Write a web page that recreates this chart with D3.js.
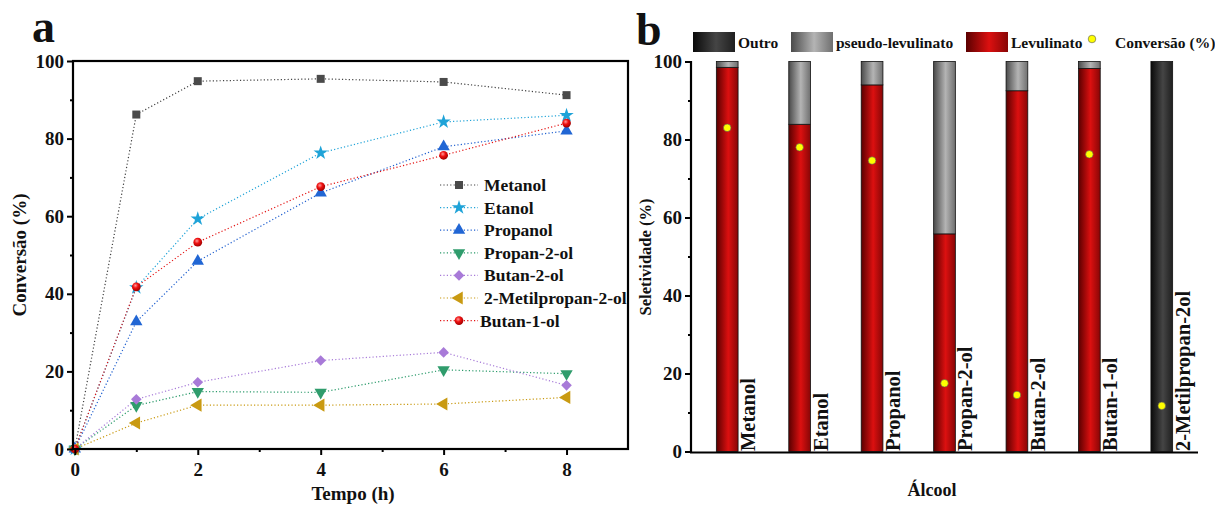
<!DOCTYPE html>
<html>
<head>
<meta charset="utf-8">
<script src="https://cdn.jsdelivr.net/npm/d3@7"></script>
<style>
  body { margin: 0; background: #fff; }
  text { font-family: "Liberation Serif", "Times New Roman", serif; font-weight: bold; fill: #111; }
</style>
</head>
<body>
<div id="chart"></div>
<script>
// ---- panel a data (Conversão vs Tempo)
const tempo = [0, 1, 2, 4, 6, 8];
const metanol = [0, 86.2, 94.8, 95.4, 94.6, 91.2];
const etanol = [0, 41.6, 59.3, 76.3, 84.3, 86.0];
const propanol = [0, 32.8, 48.4, 66.0, 77.9, 82.0];
const propan2ol = [0, 11.2, 14.8, 14.6, 20.4, 19.4];
const butan2ol = [0, 12.8, 17.2, 22.8, 24.9, 16.4];
const metilpropan2ol = [0, 6.7, 11.3, 11.3, 11.6, 13.3];
const butan1ol = [0, 41.8, 53.3, 67.6, 75.7, 84.0];
const xTicksA = [0, 2, 4, 6, 8];
const yTicks = [0, 20, 40, 60, 80, 100];

// ---- panel b data (Seletividade por álcool)
const alcoois = ['Metanol', 'Etanol', 'Propanol', 'Propan-2-ol', 'Butan-2-ol', 'Butan-1-ol', '2-Metilpropan-2ol'];
const levulinato = [98.5, 83.9, 94.0, 55.8, 92.5, 98.2, 0];
const pseudoLevulinato = [1.5, 16.1, 6.0, 44.2, 7.5, 1.8, 0];
const outro = [0, 0, 0, 0, 0, 0, 100];
const conversao = [83.0, 78.0, 74.6, 17.5, 14.5, 76.2, 11.7];

const W = 1215, H = 505;
const svg = d3.select('#chart').append('svg')
  .attr('width', W).attr('height', H);
svg.append('rect').attr('width', W).attr('height', H).attr('fill', '#fff');

const defs = svg.append('defs');

function barGradient(id, dark, bright) {
  const g = defs.append('linearGradient').attr('id', id)
    .attr('x1', '0%').attr('x2', '100%').attr('y1', '0%').attr('y2', '0%');
  g.append('stop').attr('offset', '0%').attr('stop-color', dark);
  g.append('stop').attr('offset', '55%').attr('stop-color', bright);
  g.append('stop').attr('offset', '100%').attr('stop-color', d3.interpolateRgb(dark, bright)(0.35));
}
barGradient('gOutro', '#0a0a0a', '#454545');
barGradient('gPseudo', '#4a4a4a', '#b4b4b4');
barGradient('gLevul', '#5a0000', '#dc1010');

const ball = defs.append('radialGradient').attr('id', 'gBall')
  .attr('cx', '40%').attr('cy', '35%').attr('r', '65%');
ball.append('stop').attr('offset', '0%').attr('stop-color', '#ff9a9a');
ball.append('stop').attr('offset', '45%').attr('stop-color', '#f01010');
ball.append('stop').attr('offset', '100%').attr('stop-color', '#a00000');

// ================= panel a =================
const xA = d3.scaleLinear().domain([-0.03, 9]).range([73, 628]);
const yA = d3.scaleLinear().domain([0, 100]).range([449, 61]);

const gA = svg.append('g');

const series = [
  { name: 'Metanol', values: metanol, color: '#424242', fill: '#4a4a4a', sym: d3.symbolSquare, size: 64, rot: 0 },
  { name: 'Etanol', values: etanol, color: '#1fa3d8', fill: '#1fa3d8', sym: d3.symbolStar, size: 64, rot: 0 },
  { name: 'Propanol', values: propanol, color: '#1f5fcf', fill: '#2166d4', sym: d3.symbolTriangle, size: 66, rot: 0 },
  { name: 'Propan-2-ol', values: propan2ol, color: '#2a9a6a', fill: '#2f9c6c', sym: d3.symbolTriangle, size: 66, rot: 180 },
  { name: 'Butan-2-ol', values: butan2ol, color: '#a77ad8', fill: '#a87ad8', sym: d3.symbolSquare, size: 56, rot: 45 },
  { name: '2-Metilpropan-2-ol', values: metilpropan2ol, color: '#c99a12', fill: '#c99a12', sym: d3.symbolTriangle, size: 74, rot: -90 },
  { name: 'Butan-1-ol', values: butan1ol, color: '#e41414', fill: 'url(#gBall)', sym: d3.symbolCircle, size: 60, rot: 0 }
];

const line = d3.line().x((d, i) => xA(tempo[i])).y(d => yA(d));

series.forEach(s => {
  gA.append('path')
    .attr('d', line(s.values))
    .attr('fill', 'none')
    .attr('stroke', s.color)
    .attr('stroke-width', 1.2)
    .attr('stroke-dasharray', '1.2,2.2');
});

function drawMarker(g, s, x, y) {
  g.append('path')
    .attr('d', d3.symbol().type(s.sym).size(s.size)())
    .attr('transform', `translate(${x},${y}) rotate(${s.rot})`)
    .attr('fill', s.fill);
}

series.forEach(s => {
  s.values.forEach((v, i) => drawMarker(gA, s, xA(tempo[i]), yA(v)));
});

// frame + axes
gA.append('rect')
  .attr('x', 73).attr('y', 61).attr('width', 628 - 73).attr('height', 449 - 61)
  .attr('fill', 'none').attr('stroke', '#000').attr('stroke-width', 2.2);

const axA_x = gA.append('g').attr('transform', 'translate(0,449)')
  .call(d3.axisBottom(xA).tickValues(xTicksA).tickSize(6).tickFormat(d3.format('d')));
gA.append('g').attr('transform', 'translate(0,449)')
  .call(d3.axisBottom(xA).tickValues([1, 3, 5, 7]).tickSize(3).tickFormat(''));
const axA_y = gA.append('g').attr('transform', 'translate(73,0)')
  .call(d3.axisLeft(yA).tickValues(yTicks).tickSize(6));
gA.append('g').attr('transform', 'translate(73,0)')
  .call(d3.axisLeft(yA).tickValues([10, 30, 50, 70, 90]).tickSize(3).tickFormat(''));

gA.selectAll('.domain').remove();
gA.selectAll('.tick line').attr('stroke', '#000').attr('stroke-width', 2);
axA_x.selectAll('.tick text').attr('font-size', 19).attr('dy', '0.95em').attr('y', 9);
axA_y.selectAll('.tick text').attr('font-size', 19).attr('x', -9);

gA.append('text').attr('x', 353).attr('y', 500).attr('text-anchor', 'middle')
  .attr('font-size', 19).text('Tempo (h)');
gA.append('text').attr('transform', 'translate(26,255) rotate(-90)').attr('text-anchor', 'middle')
  .attr('font-size', 19).text('Conversão (%)');
gA.append('text').attr('x', 32).attr('y', 42).attr('font-size', 46).text('a');

// legend a
const legA = gA.append('g');
series.forEach((s, i) => {
  const y = 185 + i * 22.6;
  legA.append('line').attr('x1', 440).attr('x2', 478).attr('y1', y).attr('y2', y)
    .attr('stroke', s.color).attr('stroke-width', 1.2).attr('stroke-dasharray', '1.2,2.2');
  drawMarker(legA, s, 459, y);
  legA.append('text').attr('x', s.name === 'Butan-1-ol' ? 480 : 484).attr('y', y + 6)
    .attr('font-size', 17.5).text(s.name);
});

// ================= panel b =================
const xB = d3.scaleBand().domain(alcoois).range([691, 1198]).paddingInner(0.7).paddingOuter(0.35);
const yB = d3.scaleLinear().domain([0, 100]).range([451.5, 61.5]);

const gB = svg.append('g');

const table = alcoois.map((a, i) => ({ alcool: a, levulinato: levulinato[i], pseudo: pseudoLevulinato[i], outro: outro[i] }));
const stack = d3.stack().keys(['levulinato', 'pseudo', 'outro'])(table);
const fills = { levulinato: 'url(#gLevul)', pseudo: 'url(#gPseudo)', outro: 'url(#gOutro)' };

stack.forEach(layer => {
  gB.append('g').selectAll('rect')
    .data(layer.filter(d => d[1] - d[0] > 0))
    .join('rect')
    .attr('x', d => xB(d.data.alcool))
    .attr('width', xB.bandwidth())
    .attr('y', d => yB(d[1]))
    .attr('height', d => yB(d[0]) - yB(d[1]))
    .attr('fill', fills[layer.key])
    .attr('stroke', '#111')
    .attr('stroke-width', 0.8);
});

// conversion dots
gB.selectAll('circle.conv')
  .data(alcoois)
  .join('circle')
  .attr('class', 'conv')
  .attr('cx', d => xB(d) + xB.bandwidth() / 2)
  .attr('cy', (d, i) => yB(conversao[i]))
  .attr('r', 3.8)
  .attr('fill', '#ffff00')
  .attr('stroke', '#555')
  .attr('stroke-width', 0.6);

// rotated category labels
gB.selectAll('text.cat')
  .data(alcoois)
  .join('text')
  .attr('class', 'cat')
  .attr('transform', d => `translate(${xB(d) + xB.bandwidth() + 17},451) rotate(-90)`)
  .attr('font-size', 20.5)
  .text(d => d);

// axes
const axB_y = gB.append('g').attr('transform', 'translate(691,0)')
  .call(d3.axisLeft(yB).tickValues(yTicks).tickSize(6));
gB.append('g').attr('transform', 'translate(691,0)')
  .call(d3.axisLeft(yB).tickValues([10, 30, 50, 70, 90]).tickSize(3).tickFormat(''));
gB.selectAll('.domain').remove();
gB.selectAll('.tick line').attr('stroke', '#000').attr('stroke-width', 2);
axB_y.selectAll('.tick text').attr('font-size', 19).attr('x', -9);

gB.append('line').attr('x1', 691).attr('x2', 691).attr('y1', 61).attr('y2', 452.5)
  .attr('stroke', '#000').attr('stroke-width', 2.2);
gB.append('line').attr('x1', 690).attr('x2', 1198).attr('y1', 452.5).attr('y2', 452.5)
  .attr('stroke', '#000').attr('stroke-width', 2.2);

gB.append('text').attr('x', 932).attr('y', 496).attr('text-anchor', 'middle')
  .attr('font-size', 18).text('Álcool');
gB.append('text').attr('transform', 'translate(651,257) rotate(-90)').attr('text-anchor', 'middle')
  .attr('font-size', 16.5).text('Seletividade (%)');
gB.append('text').attr('x', 636).attr('y', 45).attr('font-size', 46).text('b');

// legend b
const legB = [
  { label: 'Outro', fill: 'url(#gOutro)', x: 693, tx: 738 },
  { label: 'pseudo-levulinato', fill: 'url(#gPseudo)', x: 791, tx: 836 },
  { label: 'Levulinato', fill: 'url(#gLevul)', x: 966, tx: 1011 }
];
legB.forEach(l => {
  gB.append('rect').attr('x', l.x).attr('y', 32).attr('width', 42).attr('height', 20)
    .attr('fill', l.fill);
  gB.append('text').attr('x', l.tx).attr('y', 48).attr('font-size', 15.5).text(l.label);
});
gB.append('circle').attr('cx', 1092).attr('cy', 39).attr('r', 3.8)
  .attr('fill', '#ffff00').attr('stroke', '#555').attr('stroke-width', 0.6);
gB.append('text').attr('x', 1115).attr('y', 48).attr('font-size', 15.5).text('Conversão (%)');
</script>
</body>
</html>
